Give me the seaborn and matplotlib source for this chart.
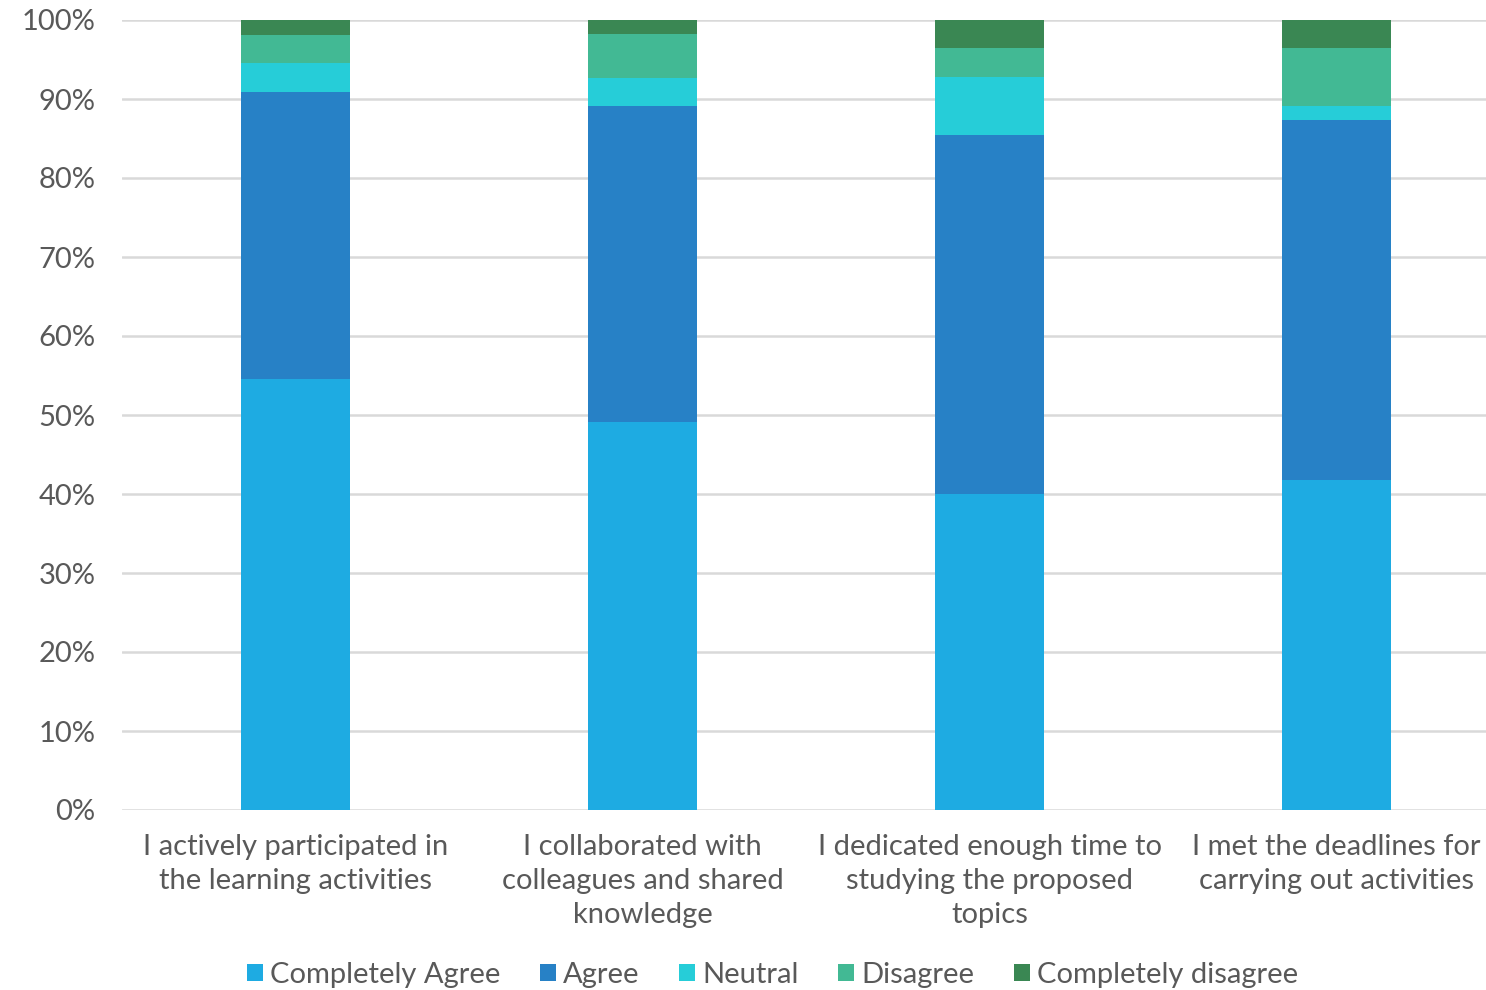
import numpy as np
import pandas as pd
import matplotlib
matplotlib.use("Agg")
import matplotlib.pyplot as plt
import seaborn as sns
from matplotlib.patches import Patch

# Data (share of respondents, %)
questions = [
    "I actively participated in\nthe learning activities",
    "I collaborated with\ncolleagues and shared\nknowledge",
    "I dedicated enough time to\nstudying the proposed\ntopics",
    "I met the deadlines for\ncarrying out activities",
]
levels = ["Completely Agree", "Agree", "Neutral", "Disagree", "Completely disagree"]
completely_agree = [54.5, 49.1, 40.0, 41.8]
agree = [36.4, 40.0, 45.5, 45.5]
neutral = [3.6, 3.6, 7.3, 1.8]
disagree = [3.6, 5.5, 3.6, 7.3]
completely_disagree = [1.9, 1.8, 3.6, 3.6]
colors = ["#1eabe2", "#2781c6", "#26cdd8", "#42b994", "#3a8753"]

sns.set_theme(style="white")
plt.rcParams["font.family"] = ["Lato", "DejaVu Sans"]
text_col = "#595959"
fs = 21

fig = plt.figure(figsize=(14.86, 9.9), dpi=100)
ax = fig.add_axes([122 / 1486, 1 - 810 / 990, 1388 / 1486, 790 / 990])

series = [completely_agree, agree, neutral, disagree, completely_disagree]
cum = np.cumsum(np.array(series), axis=0)
# draw tallest stack first, then smaller ones on top
for i in range(len(levels) - 1, -1, -1):
    df = pd.DataFrame({"q": questions, "v": cum[i]})
    sns.barplot(data=df, x="q", y="v", color=colors[i], width=0.314,
                saturation=1, ax=ax, zorder=3, linewidth=0)

ax.set_ylim(0, 100)
ax.set_xlim(-0.5, 3.5)
ax.set_yticks(np.arange(0, 101, 10))
ax.set_yticklabels([f"{t}%" for t in range(0, 101, 10)])
ax.yaxis.grid(True, color="#d9d9d9", linewidth=1.8, zorder=0)
ax.set_axisbelow(True)
for s in ax.spines.values():
    s.set_visible(False)
ax.set_xlabel("")
ax.set_ylabel("")
ax.tick_params(axis="both", length=0, colors=text_col, labelsize=fs)
ax.tick_params(axis="y", pad=19)
ax.tick_params(axis="x", pad=17)
for lab in ax.get_xticklabels():
    lab.set_linespacing(1.4)

handles = [Patch(facecolor=c, edgecolor="none", label=l) for c, l in zip(colors, levels)]
leg = fig.legend(handles=handles, loc="center", bbox_to_anchor=(0.52, 1 - 975 / 990),
                 ncol=5, frameon=False, fontsize=fs, handlelength=0.55, handleheight=0.55,
                 handletextpad=0.25, columnspacing=1.35)
for t in leg.get_texts():
    t.set_color(text_col)

fig.savefig("out.png", dpi=100)
